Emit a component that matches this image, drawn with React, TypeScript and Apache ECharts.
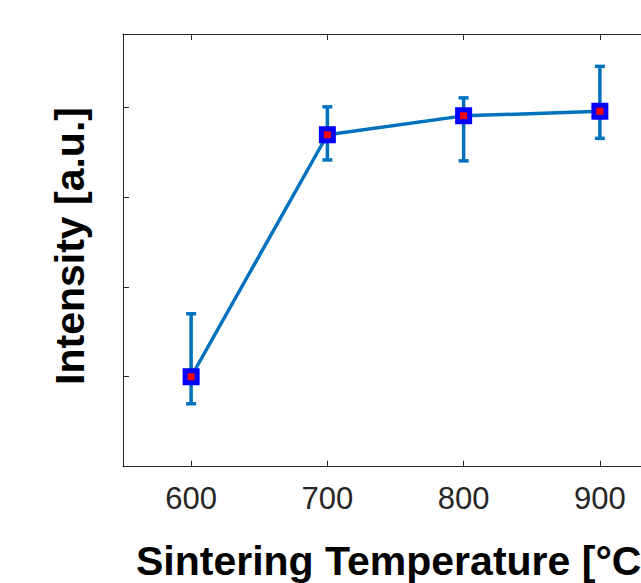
import React, { useEffect, useRef } from "react";
import * as echarts from "echarts";

const temperatures = [600, 700, 800, 900];
const intensity = [1.0, 3.69, 3.9, 3.95];
const errLower = [0.7, 3.41, 3.4, 3.65];
const errUpper = [1.7, 4.0, 4.1, 4.45];
const xTicks = [600, 700, 800, 900];
const yTicks = [1, 2, 3, 4];
const xTitle = "Sintering Temperature [°C]";
const yTitle = "Intensity [a.u.]";

const FONT = "'Liberation Sans', Arial, Helvetica, sans-serif";
const AXIS_COLOR = "#262626";
const LINE_COLOR = "#0072BD";

export default function App() {
  const ref = useRef<HTMLDivElement>(null);

  useEffect(() => {
    if (!ref.current) return;
    const chart = echarts.init(ref.current, null, { renderer: "svg" });
    const lineData = temperatures.map((t, i) => [t, intensity[i]]);
    const errData = temperatures.map((t, i) => [t, errLower[i], errUpper[i]]);

    const axisLine = { show: true, onZero: false, lineStyle: { color: AXIS_COLOR, width: 1 } };
    const tickStyle = { color: AXIS_COLOR, width: 1 };

    chart.setOption({
      animation: false,
      backgroundColor: "#ffffff",
      grid: {
        left: 123,
        top: 34,
        width: 545,
        height: 432.7,
        containLabel: false,
        outerBoundsMode: "none",
      },
      graphic: [
        {
          type: "text",
          x: 70,
          y: 246,
          rotation: Math.PI / 2,
          style: {
            text: yTitle,
            fontSize: 41,
            fontWeight: "bold",
            fontFamily: FONT,
            fill: "#000000",
            textAlign: "center",
            textVerticalAlign: "middle",
          },
        },
      ],
      xAxis: [
        {
          type: "value",
          min: 550,
          max: 950,
          position: "bottom",
          axisLine,
          axisTick: { show: true, inside: true, length: 6, customValues: xTicks, lineStyle: tickStyle },
          axisLabel: {
            show: true,
            customValues: xTicks,
            fontSize: 31,
            color: AXIS_COLOR,
            fontFamily: FONT,
            margin: 16,
          },
          splitLine: { show: false },
          name: xTitle,
          nameLocation: "middle",
          nameGap: 74,
          nameTextStyle: { fontSize: 41, fontWeight: "bold", color: "#000000", fontFamily: FONT },
        },
        {
          type: "value",
          min: 550,
          max: 950,
          position: "top",
          axisLine,
          axisTick: { show: true, inside: true, length: 6, customValues: xTicks, lineStyle: tickStyle },
          axisLabel: { show: false, customValues: xTicks },
          splitLine: { show: false },
        },
      ],
      yAxis: [
        {
          type: "value",
          min: 0,
          max: 4.81,
          position: "left",
          axisLine,
          axisTick: { show: true, inside: true, length: 6, customValues: yTicks, lineStyle: tickStyle },
          axisLabel: { show: false, customValues: yTicks },
          splitLine: { show: false },
        },
        {
          type: "value",
          min: 0,
          max: 4.81,
          position: "right",
          axisLine,
          axisTick: { show: true, inside: true, length: 6, customValues: yTicks, lineStyle: tickStyle },
          axisLabel: { show: false, customValues: yTicks },
          splitLine: { show: false },
        },
      ],
      series: [
        {
          type: "custom",
          xAxisIndex: 0,
          yAxisIndex: 0,
          z: 1,
          data: errData,
          encode: { x: 0, y: [1, 2] },
          renderItem: (params: any, api: any) => {
            const x = api.value(0);
            const lo = api.coord([x, api.value(1)]);
            const hi = api.coord([x, api.value(2)]);
            const w = 5;
            const style = { stroke: LINE_COLOR, lineWidth: 3.5 };
            return {
              type: "group",
              children: [
                { type: "line", shape: { x1: lo[0], y1: lo[1], x2: hi[0], y2: hi[1] }, style },
                { type: "line", shape: { x1: lo[0] - w, y1: lo[1], x2: lo[0] + w, y2: lo[1] }, style },
                { type: "line", shape: { x1: hi[0] - w, y1: hi[1], x2: hi[0] + w, y2: hi[1] }, style },
              ],
            };
          },
        },
        {
          type: "line",
          xAxisIndex: 0,
          yAxisIndex: 0,
          z: 3,
          data: lineData,
          lineStyle: { color: LINE_COLOR, width: 3.5 },
          symbol: "rect",
          symbolSize: 12,
          itemStyle: { color: "#FF0000", borderColor: "#0000FF", borderWidth: 5 },
        },
      ],
    });

    return () => chart.dispose();
  }, []);

  return (
    <div
      style={{
        position: "fixed",
        left: 0,
        top: 0,
        width: 641,
        height: 583,
        overflow: "hidden",
        background: "#fff",
      }}
    >
      <div ref={ref} style={{ width: 700, height: 583 }} />
    </div>
  );
}
